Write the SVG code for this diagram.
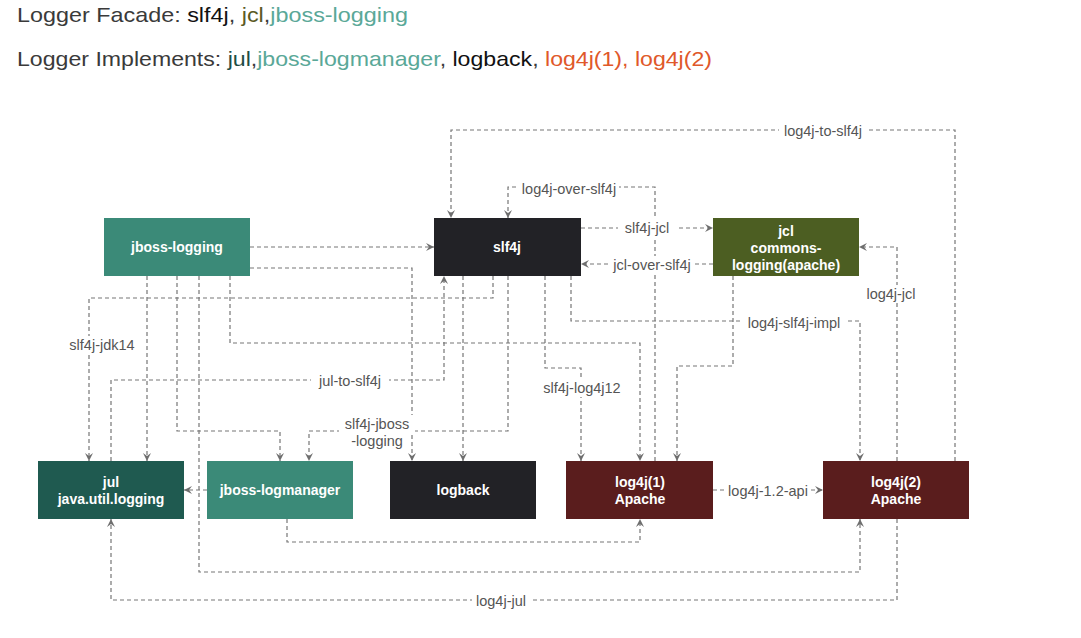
<svg xmlns="http://www.w3.org/2000/svg" width="1081" height="638" viewBox="0 0 1081 638">
<defs>
<style>
.hdr{font-family:"Liberation Sans",Arial,sans-serif;font-size:21px;fill:#3a3a3a}
.box{stroke:none}
.nt{font-family:"Liberation Sans",Arial,sans-serif;font-size:14px;font-weight:bold;fill:#ffffff;text-anchor:middle;dominant-baseline:central}
.ln{fill:none;stroke:#767676;stroke-width:1.2;stroke-dasharray:4 3}
.lbg{fill:#ffffff;stroke:none}
.lb{font-family:"Liberation Sans",Arial,sans-serif;font-size:14.5px;fill:#555555;text-anchor:middle;dominant-baseline:central}
</style>
<marker id="ah" viewBox="0 0 8 8" markerWidth="8" markerHeight="8" refX="8" refY="4" orient="auto" markerUnits="userSpaceOnUse">
<path d="M0,0 L8,4 L0,8 L3,4 z" fill="#6e6e6e"/>
</marker>
</defs>
<rect width="1081" height="638" fill="#ffffff"/>

<g id="header">
<text class="hdr" x="17" y="22" textLength="391" lengthAdjust="spacingAndGlyphs">Logger Facade: <tspan fill="#111111">slf4j</tspan>, <tspan fill="#5b5a1f">jcl</tspan>,<tspan fill="#5aa898">jboss-logging</tspan></text>
<text class="hdr" x="17" y="66" textLength="695" lengthAdjust="spacingAndGlyphs">Logger Implements: <tspan fill="#1e4d45">jul</tspan>,<tspan fill="#5aa898">jboss-logmanager</tspan>, <tspan fill="#111111">logback</tspan>, <tspan fill="#e0582a">log4j(1), log4j(2)</tspan></text>
</g>

<g id="connectors">
<path class="ln" d="M250,247 H434" marker-end="url(#ah)"/>
<path class="ln" d="M250,268 H412 V461" marker-end="url(#ah)"/>
<path class="ln" d="M230,276 V343 H640 V461" marker-end="url(#ah)"/>
<path class="ln" d="M147,276 V461" marker-end="url(#ah)"/>
<path class="ln" d="M177,276 V431 H280 V461" marker-end="url(#ah)"/>
<path class="ln" d="M199,276 V572 H860 V519" marker-end="url(#ah)"/>
<path class="ln" d="M493,276 V298 H89 V461" marker-end="url(#ah)"/>
<path class="ln" d="M111,461 V380 H444 V276" marker-end="url(#ah)"/>
<path class="ln" d="M508,276 V431 H309 V461" marker-end="url(#ah)"/>
<path class="ln" d="M463,276 V461" marker-end="url(#ah)"/>
<path class="ln" d="M545,276 V368 H581 V461" marker-end="url(#ah)"/>
<path class="ln" d="M571,276 V321 H860 V461" marker-end="url(#ah)"/>
<path class="ln" d="M655,461 V187 H508 V218" marker-end="url(#ah)"/>
<path class="ln" d="M581,228 H713" marker-end="url(#ah)"/>
<path class="ln" d="M713,264 H581" marker-end="url(#ah)"/>
<path class="ln" d="M955,461 V130 H451 V218" marker-end="url(#ah)"/>
<path class="ln" d="M897,461 V247 H859" marker-end="url(#ah)"/>
<path class="ln" d="M733,276 V366 H677 V461" marker-end="url(#ah)"/>
<path class="ln" d="M713,490 H823" marker-end="url(#ah)"/>
<path class="ln" d="M207,490 H184" marker-end="url(#ah)"/>
<path class="ln" d="M287,519 V542 H640 V519" marker-end="url(#ah)"/>
<path class="ln" d="M897,519 V600 H111 V519" marker-end="url(#ah)"/>

<rect class="lbg" x="64" y="336" width="76" height="18"/>
<rect class="lbg" x="311" y="372" width="78" height="18"/>
<rect class="lbg" x="339" y="415" width="76" height="18"/>
<rect class="lbg" x="349" y="433" width="56" height="17"/>
<rect class="lbg" x="539" y="379" width="86" height="18"/>
<rect class="lbg" x="742" y="314" width="104" height="18"/>
<rect class="lbg" x="519" y="180" width="100" height="18"/>
<rect class="lbg" x="618" y="219" width="58" height="18"/>
<rect class="lbg" x="609" y="256" width="86" height="18"/>
<rect class="lbg" x="779" y="122" width="88" height="18"/>
<rect class="lbg" x="862" y="285" width="58" height="18"/>
<rect class="lbg" x="725" y="482" width="86" height="18"/>
<rect class="lbg" x="472" y="592" width="58" height="18"/>

<text class="lb" x="102" y="345">slf4j-jdk14</text>
<text class="lb" x="350" y="381">jul-to-slf4j</text>
<text class="lb" x="377" y="424">slf4j-jboss</text>
<text class="lb" x="377" y="441">-logging</text>
<text class="lb" x="582" y="388">slf4j-log4j12</text>
<text class="lb" x="794" y="323">log4j-slf4j-impl</text>
<text class="lb" x="569" y="189">log4j-over-slf4j</text>
<text class="lb" x="647" y="228">slf4j-jcl</text>
<text class="lb" x="652" y="265">jcl-over-slf4j</text>
<text class="lb" x="823" y="131">log4j-to-slf4j</text>
<text class="lb" x="891" y="294">log4j-jcl</text>
<text class="lb" x="768" y="491">log4j-1.2-api</text>
<text class="lb" x="501" y="601">log4j-jul</text>
</g>

<g id="node-jboss-logging">
<rect class="box" x="104" y="218" width="146" height="58" fill="#3b8a78"/>
<text class="nt" x="177" y="247">jboss-logging</text>
</g>
<g id="node-slf4j">
<rect class="box" x="434" y="218" width="147" height="58" fill="#222226"/>
<text class="nt" x="507" y="247">slf4j</text>
</g>
<g id="node-jcl">
<rect class="box" x="713" y="218" width="146" height="58" fill="#4c5e22"/>
<text class="nt" x="786" y="231">jcl</text>
<text class="nt" x="786" y="248">commons-</text>
<text class="nt" x="786" y="265">logging(apache)</text>
</g>
<g id="node-jul">
<rect class="box" x="38" y="461" width="146" height="58" fill="#1f5a50"/>
<text class="nt" x="111" y="482">jul</text>
<text class="nt" x="111" y="499">java.util.logging</text>
</g>
<g id="node-jboss-logmanager">
<rect class="box" x="207" y="461" width="146" height="58" fill="#3b8a78"/>
<text class="nt" x="280" y="490">jboss-logmanager</text>
</g>
<g id="node-logback">
<rect class="box" x="390" y="461" width="146" height="58" fill="#222226"/>
<text class="nt" x="463" y="490">logback</text>
</g>
<g id="node-log4j1">
<rect class="box" x="566" y="461" width="147" height="58" fill="#5a1d1d"/>
<text class="nt" x="640" y="482">log4j(1)</text>
<text class="nt" x="640" y="499">Apache</text>
</g>
<g id="node-log4j2">
<rect class="box" x="823" y="461" width="146" height="58" fill="#5a1d1d"/>
<text class="nt" x="896" y="482">log4j(2)</text>
<text class="nt" x="896" y="499">Apache</text>
</g>
</svg>
